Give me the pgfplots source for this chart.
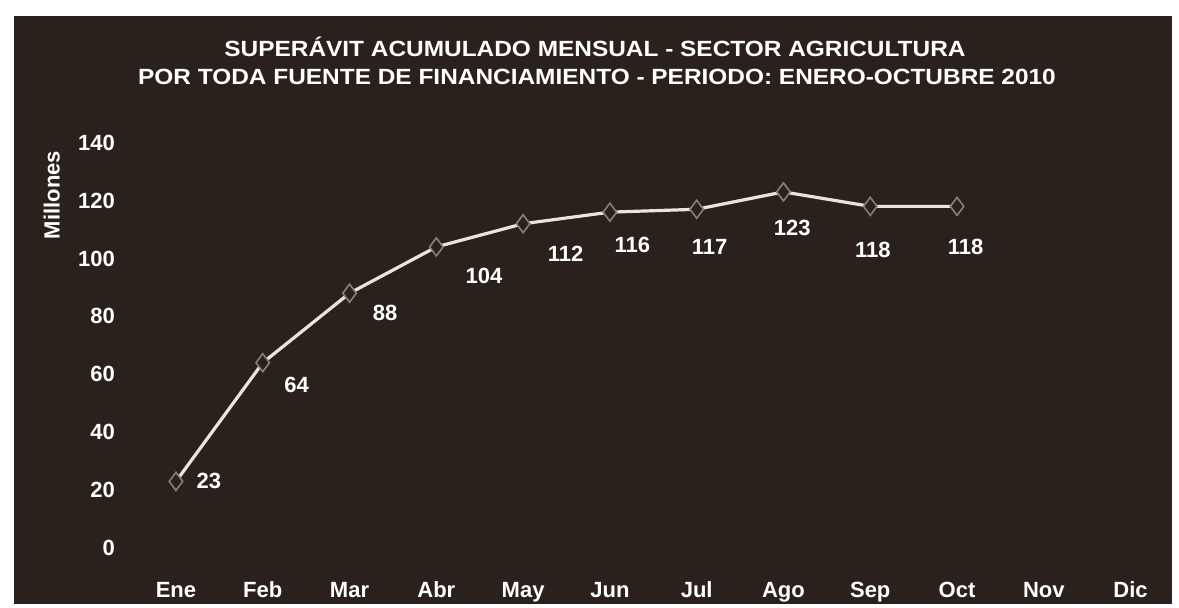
\documentclass[border=0pt]{standalone}
\usepackage{pgfplots}
\pgfplotsset{compat=1.18}
\usepackage{fontspec}
\setmainfont{Liberation Sans}
\newfontfamily\titlefont[FakeStretch=1.11]{Liberation Sans}
\definecolor{bgc}{HTML}{2B211C}
\definecolor{linec}{HTML}{E8E4E0}
\definecolor{markc}{HTML}{8A7E78}
\begin{document}
\begin{tikzpicture}
\useasboundingbox (0,0) rectangle (589.5pt,304pt);
\fill[white] (0,0) rectangle (589.5pt,304pt);
\fill[bgc] (7pt,2pt) rectangle (586pt,296pt);
\node[text=white,font=\titlefont\bfseries\fontsize{11}{13}\selectfont] at (297.5pt,280.5pt) {SUPERÁVIT ACUMULADO MENSUAL - SECTOR AGRICULTURA};
\node[text=white,font=\titlefont\bfseries\fontsize{11}{13}\selectfont] at (298.5pt,265.5pt) {POR TODA FUENTE DE FINANCIAMIENTO - PERIODO: ENERO-OCTUBRE 2010};
\begin{axis}[
  at={(61pt,15.5pt)}, anchor=south west,
  scale only axis, width=526pt, height=224.4pt,
  xmin=-0.622, xmax=11.5, ymin=-10, ymax=145,
  clip=false,
  axis line style={draw=none},
  major tick length=0pt,
  xtick={0,...,11},
  xticklabels={Ene,Feb,Mar,Abr,May,Jun,Jul,Ago,Sep,Oct,Nov,Dic},
  ytick={0,20,...,140},
  /pgf/number format/assume math mode=true,
  ticklabel style={text=white,font=\bfseries\fontsize{11}{13}\selectfont},
  xticklabel style={text height=8pt, text depth=2.5pt, yshift=1.2pt},
]
\addplot[linec, line width=1.6pt, mark=diamond*, mark size=4.5pt,
  mark options={fill=bgc, draw=markc, line width=0.8pt}]
  coordinates {(0,23) (1,64) (2,88) (3,104) (4,112) (5,116) (6,117) (7,123) (8,118) (9,118)};
\begin{scope}[every node/.style={text=white,font=\bfseries\fontsize{11}{13}\selectfont}]
\node at (axis cs:0.38,23.1) {23};
\node at (axis cs:1.39,56.3) {64};
\node at (axis cs:2.41,81.2) {88};
\node at (axis cs:3.55,94.0) {104};
\node at (axis cs:4.49,101.6) {112};
\node at (axis cs:5.26,104.6) {116};
\node at (axis cs:6.15,104.0) {117};
\node at (axis cs:7.10,110.6) {123};
\node at (axis cs:8.03,103.0) {118};
\node at (axis cs:9.10,104.0) {118};
\node[rotate=90] at (axis cs:-1.43,121.9) {Millones};
\end{scope}
\end{axis}
\end{tikzpicture}
\end{document}
